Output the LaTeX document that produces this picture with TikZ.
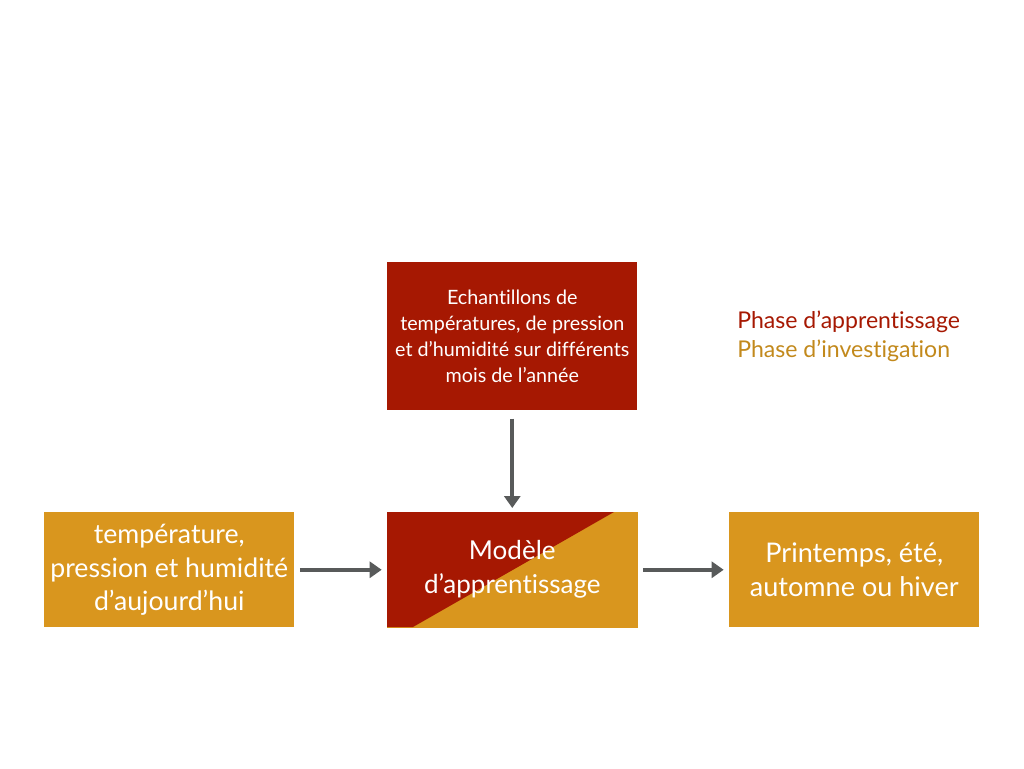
\documentclass[tikz,border=0pt]{standalone}
\usepackage{fontspec}
\setmainfont[Ligatures=NoCommon]{Lato}
\usetikzlibrary{arrows.meta}
\definecolor{rouge}{RGB}{166,24,2}
\definecolor{orange}{RGB}{217,150,30}
\definecolor{legor}{RGB}{194,137,28}
\definecolor{gris}{RGB}{88,90,90}
\tikzset{
  box/.style={minimum width=250*0.75pt, minimum height=115*0.75pt, inner sep=0pt, text=white, align=center, anchor=north west},
  conn/.style={draw=gris, line width=3pt, -{Triangle[length=9pt,width=12pt]}},
}
\begin{document}
\begin{tikzpicture}[x=0.75pt,y=-0.75pt]
\useasboundingbox (0,0) rectangle (1024,768);
% top box
\node[box, fill=rouge, minimum height=148*0.75pt, font=\fontsize{14.8}{19.5}\selectfont] (ech) at (387,262)
  {Echantillons de\\températures, de pression\\et d’humidité sur différents\\mois de l’année};
% left box
\node[box, fill=orange, font=\fontsize{20}{24.8}\selectfont] (inp) at (44,512)
  {température,\\pression et humidité\\d’aujourd’hui};
% middle box
\node[box] (mod) at (387,512) {};
\fill[orange] (mod.north west) rectangle (mod.south east);
\fill[rouge] (387,512) -- (614,512) -- (413,627) -- (387,627) -- cycle;
\node[text=white, align=center, font=\fontsize{19.5}{25.5}\selectfont] (modt) at (mod.center) {Modèle\\d’apprentissage};
% right box
\node[box, fill=orange, font=\fontsize{20.3}{25.5}\selectfont] (out) at (729,512)
  {Printemps, été,\\automne ou hiver};
% arrows
\draw[conn] ([yshift=-6pt]ech.south) -- ([yshift=3pt]mod.north);
\draw[conn] ([xshift=4pt]inp.east) -- ([xshift=-4pt]mod.west);
\draw[conn] ([xshift=4pt]mod.east) -- ([xshift=-4pt]out.west);
% legend
\node[anchor=west, inner sep=0pt, text=rouge, font=\fontsize{17.3}{21}\selectfont] (l1) at (737,322) {Phase d’apprentissage};
\node[anchor=west, inner sep=0pt, text=legor, font=\fontsize{17.3}{21}\selectfont] (l2) at (737,351) {Phase d’investigation};
\end{tikzpicture}
\end{document}
